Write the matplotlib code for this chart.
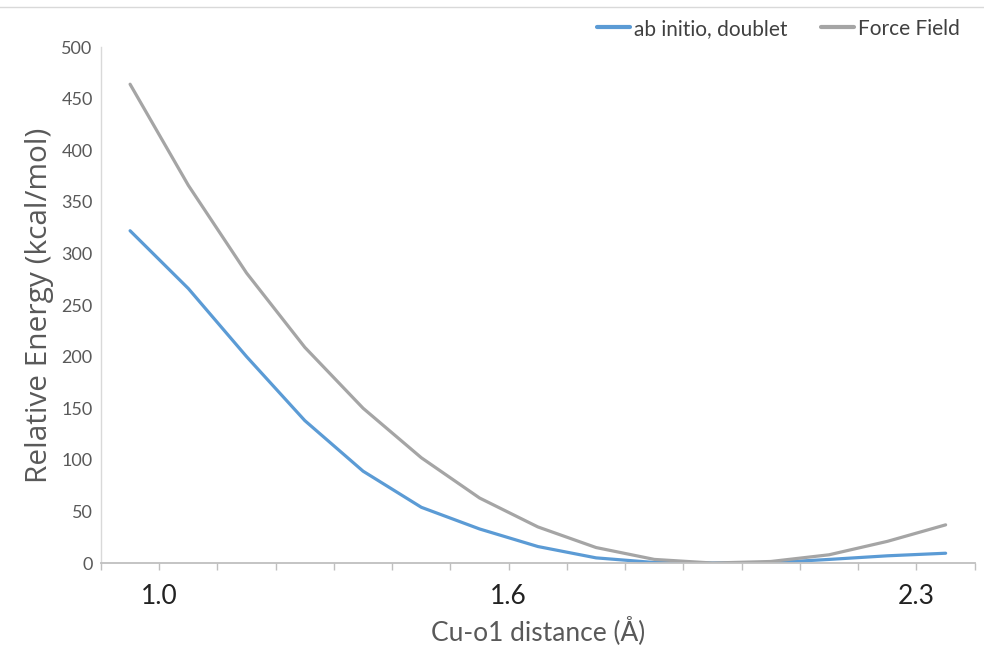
import numpy as np
import matplotlib
matplotlib.use("Agg")
from matplotlib import pyplot as plt
from matplotlib.lines import Line2D

# Cu-o1 distance categories (one point per 0.1 A bin)
distance = [0.95, 1.05, 1.15, 1.25, 1.35, 1.45, 1.55, 1.65, 1.75, 1.85,
            1.95, 2.05, 2.15, 2.25, 2.35]
ab_initio = [322, 266, 200, 138, 89, 54, 33, 16, 5, 0.5, 0, 0.3, 3.5, 7, 9.5]
force_field = [464, 366, 281, 209, 150, 102, 63, 35, 15, 3.5, 0, 1.5, 8, 21, 37]

tick_pos = [0.9 + 0.1 * k for k in range(16)]
tick_labels = {1: "1.0", 7: "1.6", 14: "2.3"}

narrow = ["Lato", "DejaVu Sans"]
grey_txt = "#595959"
axis_col = "#BFBFBF"

fig = plt.figure(figsize=(9.84, 6.5), dpi=100)
ax = fig.add_axes([0.1026, 0.1338, 0.888, 0.7938])

ax.plot(distance, ab_initio, color="#5B9BD5", lw=2.3, label="ab initio, doublet",
        solid_joinstyle="round", solid_capstyle="round")
ax.plot(distance, force_field, color="#A5A5A5", lw=2.3, label="Force Field",
        solid_joinstyle="round", solid_capstyle="round")

ax.set_xlim(0.9, 2.4)
ax.set_ylim(0, 500)
ax.set_yticks(np.arange(0, 501, 50))
ax.set_xticks(tick_pos)
ax.set_xticklabels([tick_labels.get(k, "") for k in range(16)],
                   fontsize=19, family=narrow, color="#222222")
for lab in ax.get_yticklabels():
    lab.set_family(narrow)
ax.tick_params(axis="y", length=0, labelsize=13, labelcolor=grey_txt, pad=6)
ax.tick_params(axis="x", length=5, color=axis_col, width=1, pad=10)

for side in ["top", "right"]:
    ax.spines[side].set_visible(False)
ax.spines["left"].set_color("#D9D9D9")
ax.spines["bottom"].set_color(axis_col)
ax.spines["left"].set_linewidth(1)
ax.spines["bottom"].set_linewidth(1.3)

ax.set_ylabel("Relative Energy (kcal/mol)", fontsize=21.5, color=grey_txt,
              family="Open Sans", labelpad=5)
ax.set_xlabel("Cu-o1 distance (\u00c5)", fontsize=19, color=grey_txt,
              family=narrow, labelpad=5)

leg = fig.legend(loc="upper right", bbox_to_anchor=(0.995, 1.0), ncol=2,
                 frameon=False, handlelength=1.6, handletextpad=0.2,
                 columnspacing=1.6, prop={"family": narrow, "size": 15})
for t in leg.get_texts():
    t.set_color("#404040")
for h in leg.legend_handles:
    h.set_linewidth(3)

# thin chart border along the top
fig.add_artist(Line2D([0, 1], [0.989, 0.989], transform=fig.transFigure,
                      color="#D9D9D9", lw=1))

fig.savefig("out.png", dpi=100)
